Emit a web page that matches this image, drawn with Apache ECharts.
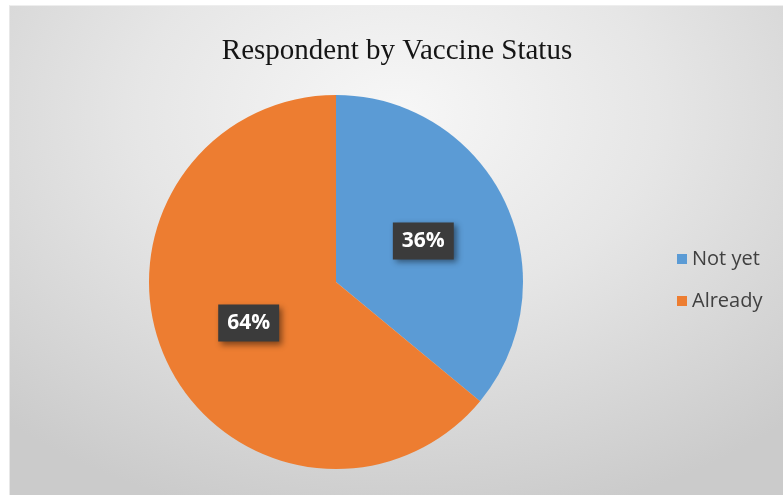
<!DOCTYPE html>
<html>
<head>
<meta charset="utf-8">
<script src="https://cdn.jsdelivr.net/npm/echarts@6/dist/echarts.min.js"></script>
<style>
  html, body { margin: 0; padding: 0; background: #ffffff; }
  #frame {
    position: absolute; left: 9px; top: 5px; width: 774px; height: 490px;
    background: radial-gradient(ellipse 75% 85% at 50% 22%, #f7f7f7 0%, #e6e6e6 45%, #cbcbcb 100%);
    border-left: 1px solid #e8e8e8; border-top: 1px solid #eeeeee;
  }
  #chart { width: 774px; height: 490px; }
</style>
</head>
<body>
<div id="frame"><div id="chart"></div></div>
<script>
// Survey respondents split by vaccination status (percent)
const categories = ['Not yet', 'Already'];
const shares = [36, 64];
const colors = ['#5B9BD5', '#ED7D31'];

const chart = echarts.init(document.getElementById('chart'), null, { renderer: 'canvas' });

chart.setOption({
  backgroundColor: 'transparent',
  animation: false,
  title: {
    text: 'Respondent by Vaccine Status',
    left: 382, top: 26, textAlign: 'center',
    textStyle: { fontFamily: 'Liberation Serif', fontWeight: 'normal', fontSize: 29, color: '#151515' }
  },
  legend: {
    orient: 'vertical',
    left: 662, top: 238,
    itemWidth: 10, itemHeight: 10, itemGap: 22,
    icon: 'rect',
    textStyle: { fontFamily: 'Open Sans', fontSize: 20, color: '#404040', padding: [0, 0, 0, 0] },
    data: categories
  },
  series: [{
    type: 'pie',
    center: [326, 276],
    radius: 187,
    startAngle: 90,
    clockwise: true,
    color: colors,
    itemStyle: { borderWidth: 0 },
    label: {
      show: true,
      position: 'inside',
      formatter: p => p.value + '%',
      fontFamily: 'Open Sans', fontWeight: 'bold', fontSize: 21, color: '#ffffff',
      backgroundColor: '#3b3b3b',
      padding: [9, 9, 7, 9],
      shadowColor: 'rgba(0,0,0,0.45)', shadowBlur: 6, shadowOffsetX: 3, shadowOffsetY: 3
    },
    labelLine: { show: false },
    emphasis: { disabled: true },
    data: categories.map((name, i) => ({ name, value: shares[i] }))
  }]
});
</script>
</body>
</html>
